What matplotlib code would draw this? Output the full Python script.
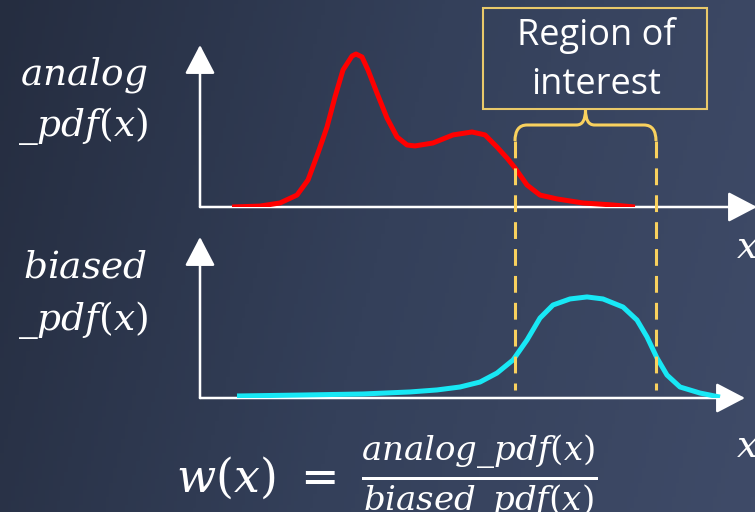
import numpy as np
import matplotlib
matplotlib.use("Agg")
import matplotlib.pyplot as plt
from matplotlib.colors import LinearSegmentedColormap
from matplotlib.path import Path
from matplotlib.patches import PathPatch, Rectangle

plt.rcParams["mathtext.fontset"] = "dejavuserif"

# curve samples (x in panel units, y in pdf units)
analog_x = [0.64, 1.2, 1.6, 1.94, 2.16, 2.36, 2.54, 2.7, 2.86, 3.04, 3.12, 3.24, 3.36,
            3.54, 3.74, 3.94, 4.14, 4.3, 4.66, 5.06, 5.44, 5.7, 5.94, 6.14, 6.3, 6.54,
            6.8, 7.14, 7.66, 8.26, 8.7]
analog_y = [0.0, 0.006, 0.026, 0.077, 0.174, 0.348, 0.516, 0.71, 0.884, 0.974, 0.987,
            0.968, 0.884, 0.735, 0.574, 0.452, 0.4, 0.394, 0.413, 0.465, 0.484, 0.465,
            0.387, 0.316, 0.252, 0.142, 0.077, 0.052, 0.026, 0.013, 0.0]
biased_x = [0.74, 2.0, 3.26, 4.2, 4.74, 5.2, 5.6, 5.94, 6.26, 6.54, 6.8, 7.06, 7.4,
            7.74, 8.06, 8.46, 8.74, 8.94, 9.14, 9.34, 9.6, 10.0, 10.4]
biased_y = [0.013, 0.019, 0.026, 0.039, 0.052, 0.071, 0.103, 0.161, 0.245, 0.374, 0.516,
            0.6, 0.639, 0.652, 0.639, 0.587, 0.503, 0.394, 0.258, 0.148, 0.071, 0.032,
            0.006]
region = [6.3, 9.12]

W, H = 755, 512
fig = plt.figure(figsize=(W / 100, H / 100), dpi=100)

# background gradient
bg = fig.add_axes([0, 0, 1, 1])
bg.set_xlim(0, W)
bg.set_ylim(H, 0)
bg.axis("off")
cmap = LinearSegmentedColormap.from_list("bg", ["#252d40", "#34405a", "#3f4b68"])
gx, gy = np.meshgrid(np.linspace(0, 1, 200), np.linspace(0, 1, 140))
bg.imshow(gx * 0.85 + gy * 0.15, cmap=cmap, extent=[0, W, H, 0], aspect="auto", zorder=0)

PX = 50.0  # pixels per panel x unit
PY = 155.0  # pixels per pdf unit


def panel(base, top, tip):
    ax = fig.add_axes([200 / W, (H - base) / H, (W - 200) / W, (base - top) / H])
    ax.set_xlim(0, (W - 200) / PX)
    ax.set_ylim(0, (base - top) / PY)
    ax.patch.set_alpha(0)
    ax.axis("off")
    ymax = (base - top) / PY
    ap = dict(arrowstyle="-|>,head_length=0.9,head_width=0.47", color="white",
              lw=1.8, mutation_scale=20, shrinkA=0, shrinkB=0)
    ax.annotate("", xy=(0, ymax), xytext=(0, 0), arrowprops=ap, annotation_clip=False)
    ax.annotate("", xy=((tip - 200) / PX, 0), xytext=(0, 0), arrowprops=ap,
                annotation_clip=False)
    return ax


top_ax = panel(207, 45, 757)
top_ax.plot(analog_x, analog_y, color="#ff0000", lw=3.6, solid_capstyle="butt",
            solid_joinstyle="round", zorder=3)
bot_ax = panel(398, 237, 745)
bot_ax.plot(biased_x, biased_y, color="#18e8f5", lw=3.6, solid_capstyle="butt",
            solid_joinstyle="round", zorder=3)

# overlay for annotations
ov = fig.add_axes([0, 0, 1, 1])
ov.set_xlim(0, W)
ov.set_ylim(H, 0)
ov.axis("off")
ov.patch.set_alpha(0)

gold = "#f9d15e"
x0, x1 = [200 + PX * r for r in region]
for xv in (x0, x1):
    ov.plot([xv, xv], [141, 390], color=gold, lw=2.2, dashes=(5.5, 3.3))

xm = (x0 + x1) / 2
brace = Path([(x0, 141), (x0, 125), (x0 + 12, 125), (xm - 9, 125), (xm, 125), (xm, 110),
              (xm, 125), (xm + 9, 125), (x1 - 12, 125), (x1, 125), (x1, 141)],
             [Path.MOVETO, Path.CURVE3, Path.CURVE3, Path.LINETO, Path.CURVE3, Path.CURVE3,
              Path.CURVE3, Path.CURVE3, Path.LINETO, Path.CURVE3, Path.CURVE3])
ov.add_patch(PathPatch(brace, fill=False, ec=gold, lw=2.2))

ov.add_patch(Rectangle((483, 8), 224, 101, fill=False, ec="#e9c96a", lw=1.5))
ov.text(596, 36, "Region of", color="white", fontsize=26, family="Open Sans",
        ha="center", va="center")
ov.text(596, 85, "interest", color="white", fontsize=26, family="Open Sans",
        ha="center", va="center")

lab = dict(color="white", fontsize=27, ha="center", va="center")
ov.text(84, 75, r"$analog$", **lab)
ov.text(83, 126, r"$\_pdf(x)$", **lab)
ov.text(85, 268, r"$biased$", **lab)
ov.text(83, 320, r"$\_pdf(x)$", **lab)
ov.text(736, 248, r"$x$", **dict(lab, ha="left"))
ov.text(736, 447, r"$x$", **dict(lab, ha="left"))

ov.text(176, 478, r"$w(x)\ =$", color="white", fontsize=33, ha="left", va="center")
ov.text(479, 477, r"$\frac{analog\_pdf(x)}{biased\_pdf(x)}$", color="white",
        fontsize=35, ha="center", va="center")

fig.savefig("out.png", dpi=100)
